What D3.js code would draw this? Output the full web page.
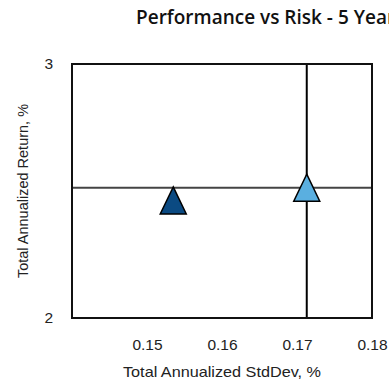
<!DOCTYPE html>
<html lang="en">
<head>
<meta charset="utf-8" />
<title>Performance vs Risk</title>
<script src="https://d3js.org/d3.v7.min.js"></script>
<style>
  body { margin: 0; background: #fff; }
  svg { display: block; }
</style>
</head>
<body>
<div id="chart"></div>
<script>
var width = 389;
var height = 383;
var margin = { top: 64, right: 17, bottom: 65, left: 72 };

// points: name, risk (stddev), return
var names = ["Fund", "Benchmark"];
var risk = [0.1535, 0.1713];
var returns = [2.463, 2.513];
var colors = ["#0b4a82", "#5aafe0"];

var xTicks = [0.15, 0.16, 0.17, 0.18];
var yTicks = [2, 3];

var xScale = d3.scaleLinear()
  .domain([0.14, 0.18])
  .range([margin.left, width - margin.right]);

var yScale = d3.scaleLinear()
  .domain([2, 3])
  .range([height - margin.bottom, margin.top]);

var svg = d3.select("#chart")
  .append("svg")
  .attr("width", width)
  .attr("height", height);

// title
svg.append("text")
  .attr("x", 136)
  .attr("y", 24)
  .attr("font-family", "'Open Sans', sans-serif")
  .attr("font-weight", 600)
  .attr("font-size", 19)
  .attr("fill", "#111")
  .text("Performance vs Risk - 5 Years");

// crosshair at benchmark
svg.append("line")
  .attr("x1", margin.left)
  .attr("x2", width - margin.right)
  .attr("y1", yScale(returns[1]))
  .attr("y2", yScale(returns[1]))
  .attr("stroke", "#444")
  .attr("stroke-width", 2);

svg.append("line")
  .attr("x1", xScale(risk[1]))
  .attr("x2", xScale(risk[1]))
  .attr("y1", margin.top)
  .attr("y2", height - margin.bottom)
  .attr("stroke", "#000")
  .attr("stroke-width", 2);

// frame
svg.append("rect")
  .attr("x", margin.left)
  .attr("y", margin.top)
  .attr("width", width - margin.left - margin.right)
  .attr("height", height - margin.top - margin.bottom)
  .attr("fill", "none")
  .attr("stroke", "#111")
  .attr("stroke-width", 2);

// axes (labels only)
var xAxis = d3.axisBottom(xScale).tickValues(xTicks).tickSize(0).tickPadding(21)
  .tickFormat(d3.format(".2f"));
var yAxis = d3.axisLeft(yScale).tickValues(yTicks).tickSize(0).tickPadding(19)
  .tickFormat(d3.format("d"));

var gx = svg.append("g")
  .attr("transform", "translate(0," + (height - margin.bottom) + ")")
  .call(xAxis);
var gy = svg.append("g")
  .attr("transform", "translate(" + margin.left + ",0)")
  .call(yAxis);

[gx, gy].forEach(function(g) {
  g.select(".domain").remove();
  g.selectAll("text")
    .attr("font-family", "'Liberation Sans', Arial, sans-serif")
    .attr("font-size", 15.5)
    .attr("fill", "#222");
});

// axis titles
svg.append("text")
  .attr("x", (margin.left + width - margin.right) / 2)
  .attr("y", 377)
  .attr("text-anchor", "middle")
  .attr("font-family", "'Liberation Sans', Arial, sans-serif")
  .attr("font-size", 15)
  .attr("textLength", 198)
  .attr("lengthAdjust", "spacingAndGlyphs")
  .attr("fill", "#222")
  .text("Total Annualized StdDev, %");

svg.append("text")
  .attr("transform", "translate(28," + ((margin.top + height - margin.bottom) / 2) + ") rotate(-90)")
  .attr("text-anchor", "middle")
  .attr("font-family", "'Liberation Sans', Arial, sans-serif")
  .attr("font-size", 14.5)
  .attr("fill", "#222")
  .text("Total Annualized Return, %");

// markers: isosceles triangles centred on their box
var triW = 26, triH = 27;
var tri = "M0," + (-triH / 2) + "L" + (triW / 2) + "," + (triH / 2) + "L" + (-triW / 2) + "," + (triH / 2) + "Z";
svg.selectAll(".pt")
  .data(names)
  .enter()
  .append("path")
  .attr("class", "pt")
  .attr("d", tri)
  .attr("transform", function(d, i) {
    return "translate(" + xScale(risk[i]) + "," + yScale(returns[i]) + ")";
  })
  .attr("fill", function(d, i) { return colors[i]; })
  .attr("stroke", "#000")
  .attr("stroke-width", 1.5);
</script>
</body>
</html>
